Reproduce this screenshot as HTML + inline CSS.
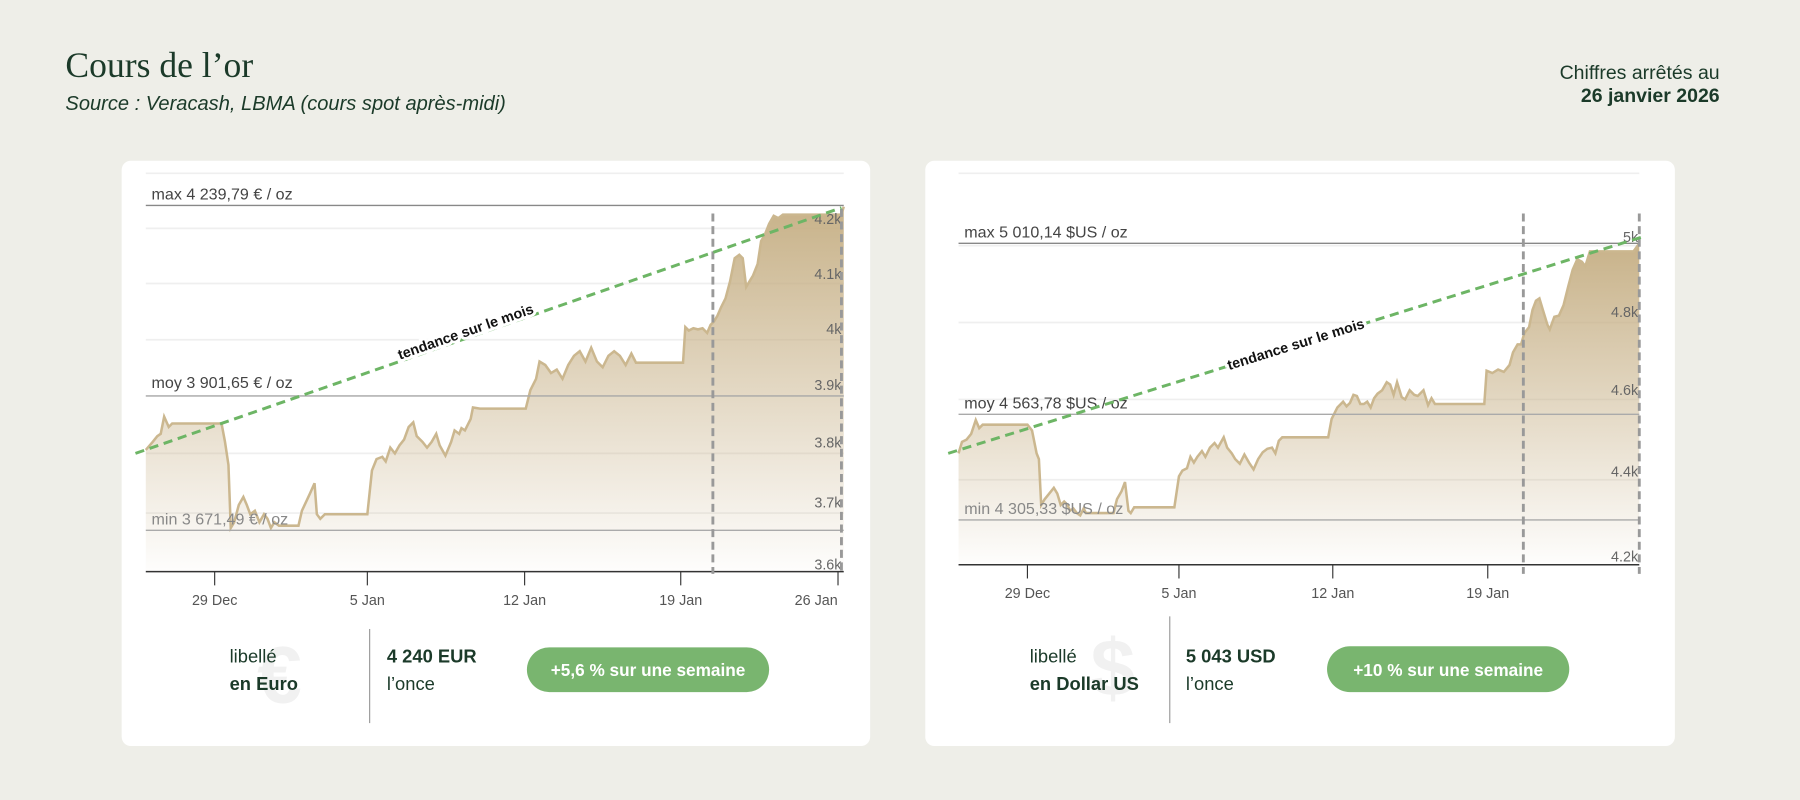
<!DOCTYPE html>
<html><head><meta charset="utf-8"><style>
html,body{margin:0;padding:0;background:#eeeee8;}
svg{display:block}
</style></head><body>
<svg width="1800" height="800" viewBox="0 0 1568 697" preserveAspectRatio="none" xmlns="http://www.w3.org/2000/svg" font-family="Liberation Sans, sans-serif">
<defs>
<linearGradient id="g1" x1="0" y1="0" x2="0" y2="1">
<stop offset="0" stop-color="#c5ae83" stop-opacity="0.95"/>
<stop offset="1" stop-color="#c5ae83" stop-opacity="0.02"/>
</linearGradient>
</defs>
<rect width="1568" height="697" fill="#eeeee8"/>
<text x="57" y="67" font-family="Liberation Serif, serif" font-size="31" fill="#1b3a29">Cours de l’or</text>
<text x="57" y="96" font-size="17.5" font-style="italic" fill="#1b3a29">Source : Veracash, LBMA (cours spot après-midi)</text>
<text x="1498" y="69" font-size="17" text-anchor="end" fill="#1b3a29">Chiffres arrêtés au</text>
<text x="1498" y="89" font-size="17" font-weight="bold" text-anchor="end" fill="#1b3a29">26 janvier 2026</text>

<!-- LEFT CARD -->
<rect x="106" y="140" width="652" height="510" rx="8" fill="#fff"/>
<g stroke="#efefef" stroke-width="1.5">
<line x1="127" y1="151" x2="735" y2="151"/><line x1="127" y1="199" x2="735" y2="199"/>
<line x1="127" y1="247" x2="735" y2="247"/><line x1="127" y1="296" x2="735" y2="296"/>
<line x1="127" y1="345" x2="735" y2="345"/><line x1="127" y1="395" x2="735" y2="395"/>
<line x1="127" y1="447" x2="735" y2="447"/>
</g>
<path d="M127 392 L133 385 L137 380 L140 378 L143 363 L147 372 L150 369 L193 369 L196 385 L199 405 L201 460 L204 455 L208 440 L212 433 L215 440 L218 448 L222 445 L226 455 L230 448 L233 452 L236 460 L239 455 L243 458 L260 458 L263 445 L270 430 L274 421 L276 448 L279 452 L283 448 L320 448 L324 410 L328 400 L333 398 L336 402 L340 390 L344 395 L348 388 L352 383 L356 372 L360 368 L363 380 L368 385 L372 390 L376 385 L380 378 L383 388 L388 397 L393 385 L396 375 L400 378 L402 373 L405 375 L410 365 L412 355 L418 356 L458 356 L462 340 L467 330 L470 315 L475 318 L480 325 L485 322 L490 330 L495 318 L500 310 L505 306 L510 315 L515 303 L520 315 L525 320 L530 310 L535 306 L540 310 L545 318 L550 308 L554 316 L595 316 L597 285 L600 288 L604 286 L608 287 L612 286 L616 290 L619 283 L622 280 L625 275 L628 268 L632 260 L636 245 L640 225 L644 222 L647 225 L650 250 L653 245 L656 240 L660 230 L663 210 L666 205 L670 195 L674 188 L678 190 L682 187 L733 187 L735 180 L735 498 L127 498 Z" fill="url(#g1)"/>
<path d="M127 392 L133 385 L137 380 L140 378 L143 363 L147 372 L150 369 L193 369 L196 385 L199 405 L201 460 L204 455 L208 440 L212 433 L215 440 L218 448 L222 445 L226 455 L230 448 L233 452 L236 460 L239 455 L243 458 L260 458 L263 445 L270 430 L274 421 L276 448 L279 452 L283 448 L320 448 L324 410 L328 400 L333 398 L336 402 L340 390 L344 395 L348 388 L352 383 L356 372 L360 368 L363 380 L368 385 L372 390 L376 385 L380 378 L383 388 L388 397 L393 385 L396 375 L400 378 L402 373 L405 375 L410 365 L412 355 L418 356 L458 356 L462 340 L467 330 L470 315 L475 318 L480 325 L485 322 L490 330 L495 318 L500 310 L505 306 L510 315 L515 303 L520 315 L525 320 L530 310 L535 306 L540 310 L545 318 L550 308 L554 316 L595 316 L597 285 L600 288 L604 286 L608 287 L612 286 L616 290 L619 283 L622 280 L625 275 L628 268 L632 260 L636 245 L640 225 L644 222 L647 225 L650 250 L653 245 L656 240 L660 230 L663 210 L666 205 L670 195 L674 188 L678 190 L682 187 L733 187 L735 180" fill="none" stroke="#cbb78f" stroke-width="2.2"/>
<g stroke="#888" stroke-width="1.2">
<line x1="127" y1="179" x2="735" y2="179"/><line x1="127" y1="345" x2="735" y2="345" stroke="#aaa"/><line x1="127" y1="462" x2="735" y2="462" stroke="#aaa"/>
</g>
<line x1="127" y1="498" x2="735" y2="498" stroke="#333" stroke-width="1.3"/>
<g stroke="#333" stroke-width="1"><line x1="187" y1="498" x2="187" y2="510"/><line x1="320" y1="498" x2="320" y2="510"/><line x1="457" y1="498" x2="457" y2="510"/><line x1="593" y1="498" x2="593" y2="510"/><line x1="730" y1="498" x2="730" y2="510"/></g>
<g font-size="12.5" fill="#555" text-anchor="middle"><text x="187" y="527">29 Dec</text><text x="320" y="527">5 Jan</text><text x="457" y="527">12 Jan</text><text x="593" y="527">19 Jan</text><text x="711" y="527">26 Jan</text></g>
<g font-size="12.5" fill="#666" text-anchor="end"><text x="733" y="195">4.2k</text><text x="733" y="243">4.1k</text><text x="733" y="291">4k</text><text x="733" y="340">3.9k</text><text x="733" y="390">3.8k</text><text x="733" y="442">3.7k</text><text x="733" y="496">3.6k</text></g>
<g font-size="14" fill="#444"><text x="132" y="174">max 4 239,79 € / oz</text><text x="132" y="338">moy 3 901,65 € / oz</text><text x="132" y="457" fill="#888">min 3 671,49 € / oz</text></g>
<g stroke="#999" stroke-width="2.5" stroke-dasharray="7,4"><line x1="621" y1="186" x2="621" y2="500"/><line x1="733" y1="182" x2="733" y2="500"/></g>
<line x1="118" y1="395" x2="733" y2="181" stroke="#6db565" stroke-width="2.6" stroke-dasharray="8,5"/>
<text x="407" y="293" transform="rotate(-19.2 407 293)" font-size="12.5" font-weight="bold" text-anchor="middle" fill="#111" stroke="#fff" stroke-width="5" paint-order="stroke">tendance sur le mois</text>
<text x="224" y="612" font-size="70" font-weight="bold" fill="#f1f1f1">€</text>
<text x="200" y="577" font-size="16" fill="#1b3a29">libellé</text>
<text x="200" y="601" font-size="16" font-weight="bold" fill="#1b3a29">en Euro</text>
<line x1="322" y1="548" x2="322" y2="630" stroke="#999" stroke-width="1"/>
<text x="337" y="577" font-size="16" font-weight="bold" fill="#1b3a29">4 240 EUR</text>
<text x="337" y="601" font-size="16" fill="#1b3a29">l’once</text>
<rect x="459" y="564" width="211" height="39" rx="19.5" fill="#79b56f"/>
<text x="564.5" y="589" font-size="15" font-weight="bold" fill="#fff" text-anchor="middle">+5,6 % sur une semaine</text>

<!-- RIGHT CARD -->
<rect x="806" y="140" width="653" height="510" rx="8" fill="#fff"/>
<g stroke="#efefef" stroke-width="1.5">
<line x1="835" y1="151" x2="1428" y2="151"/><line x1="835" y1="214" x2="1428" y2="214"/>
<line x1="835" y1="281" x2="1428" y2="281"/><line x1="835" y1="348" x2="1428" y2="348"/>
<line x1="835" y1="418" x2="1428" y2="418"/>
</g>
<path d="M835 395 L838 385 L842 383 L846 378 L850 366 L853 373 L856 370 L895 370 L899 375 L903 395 L905 400 L907 440 L910 435 L914 430 L918 425 L921 430 L924 440 L927 437 L930 440 L932 445 L935 443 L938 447 L941 449 L944 443 L946 447 L970 447 L973 435 L977 428 L980 420 L983 445 L985 447 L988 442 L1023 442 L1027 415 L1030 410 L1034 408 L1037 398 L1040 403 L1043 398 L1047 393 L1050 398 L1054 390 L1058 386 L1061 390 L1066 381 L1069 390 L1073 395 L1076 400 L1080 404 L1084 396 L1088 403 L1092 409 L1096 400 L1100 394 L1104 391 L1108 390 L1111 395 L1114 384 L1117 381 L1157 381 L1160 365 L1165 355 L1170 350 L1173 354 L1176 351 L1179 344 L1182 345 L1185 352 L1188 352 L1191 350 L1194 355 L1197 347 L1200 343 L1204 340 L1208 333 L1211 335 L1214 344 L1217 333 L1221 346 L1224 348 L1228 340 L1232 344 L1235 345 L1240 340 L1244 353 L1247 347 L1250 352 L1293 352 L1295 323 L1300 325 L1305 322 L1310 324 L1315 318 L1318 307 L1322 300 L1325 300 L1328 290 L1332 285 L1335 270 L1338 262 L1341 260 L1344 270 L1348 283 L1350 287 L1354 276 L1358 275 L1362 266 L1366 250 L1370 235 L1374 226 L1378 228 L1381 232 L1385 219 L1423 219 L1428 212 L1428 492 L835 492 Z" fill="url(#g1)"/>
<path d="M835 395 L838 385 L842 383 L846 378 L850 366 L853 373 L856 370 L895 370 L899 375 L903 395 L905 400 L907 440 L910 435 L914 430 L918 425 L921 430 L924 440 L927 437 L930 440 L932 445 L935 443 L938 447 L941 449 L944 443 L946 447 L970 447 L973 435 L977 428 L980 420 L983 445 L985 447 L988 442 L1023 442 L1027 415 L1030 410 L1034 408 L1037 398 L1040 403 L1043 398 L1047 393 L1050 398 L1054 390 L1058 386 L1061 390 L1066 381 L1069 390 L1073 395 L1076 400 L1080 404 L1084 396 L1088 403 L1092 409 L1096 400 L1100 394 L1104 391 L1108 390 L1111 395 L1114 384 L1117 381 L1157 381 L1160 365 L1165 355 L1170 350 L1173 354 L1176 351 L1179 344 L1182 345 L1185 352 L1188 352 L1191 350 L1194 355 L1197 347 L1200 343 L1204 340 L1208 333 L1211 335 L1214 344 L1217 333 L1221 346 L1224 348 L1228 340 L1232 344 L1235 345 L1240 340 L1244 353 L1247 347 L1250 352 L1293 352 L1295 323 L1300 325 L1305 322 L1310 324 L1315 318 L1318 307 L1322 300 L1325 300 L1328 290 L1332 285 L1335 270 L1338 262 L1341 260 L1344 270 L1348 283 L1350 287 L1354 276 L1358 275 L1362 266 L1366 250 L1370 235 L1374 226 L1378 228 L1381 232 L1385 219 L1423 219 L1428 212" fill="none" stroke="#cbb78f" stroke-width="2.2"/>
<g stroke="#aaa" stroke-width="1.2">
<line x1="835" y1="212" x2="1428" y2="212" stroke="#888"/><line x1="835" y1="361" x2="1428" y2="361"/><line x1="835" y1="453" x2="1428" y2="453"/>
</g>
<line x1="835" y1="492" x2="1428" y2="492" stroke="#333" stroke-width="1.3"/>
<g stroke="#333" stroke-width="1"><line x1="895" y1="492" x2="895" y2="504"/><line x1="1027" y1="492" x2="1027" y2="504"/><line x1="1161" y1="492" x2="1161" y2="504"/><line x1="1296" y1="492" x2="1296" y2="504"/></g>
<g font-size="12.5" fill="#555" text-anchor="middle"><text x="895" y="521">29 Dec</text><text x="1027" y="521">5 Jan</text><text x="1161" y="521">12 Jan</text><text x="1296" y="521">19 Jan</text></g>
<g font-size="12.5" fill="#666" text-anchor="end"><text x="1427" y="211">5k</text><text x="1427" y="276">4.8k</text><text x="1427" y="344">4.6k</text><text x="1427" y="415">4.4k</text><text x="1427" y="489">4.2k</text></g>
<g font-size="14" fill="#444"><text x="840" y="207">max 5 010,14 $US / oz</text><text x="840" y="356">moy 4 563,78 $US / oz</text><text x="840" y="448" fill="#888">min 4 305,33 $US / oz</text></g>
<g stroke="#999" stroke-width="2.5" stroke-dasharray="7,4"><line x1="1327" y1="186" x2="1327" y2="500"/><line x1="1428" y1="186" x2="1428" y2="500"/></g>
<line x1="826" y1="395" x2="1432" y2="206" stroke="#6db565" stroke-width="2.6" stroke-dasharray="8,5"/>
<text x="1130" y="304" transform="rotate(-17.3 1130 304)" font-size="12.5" font-weight="bold" text-anchor="middle" fill="#111" stroke="#fff" stroke-width="5" paint-order="stroke">tendance sur le mois</text>
<text x="950" y="606" font-size="70" font-weight="bold" fill="#f1f1f1">$</text>
<text x="897" y="577" font-size="16" fill="#1b3a29">libellé</text>
<text x="897" y="601" font-size="16" font-weight="bold" fill="#1b3a29">en Dollar US</text>
<line x1="1019" y1="537" x2="1019" y2="630" stroke="#999" stroke-width="1"/>
<text x="1033" y="577" font-size="16" font-weight="bold" fill="#1b3a29">5 043 USD</text>
<text x="1033" y="601" font-size="16" fill="#1b3a29">l’once</text>
<rect x="1156" y="563" width="211" height="40" rx="20" fill="#79b56f"/>
<text x="1261.5" y="589" font-size="15" font-weight="bold" fill="#fff" text-anchor="middle">+10 % sur une semaine</text>
</svg>
</body></html>
